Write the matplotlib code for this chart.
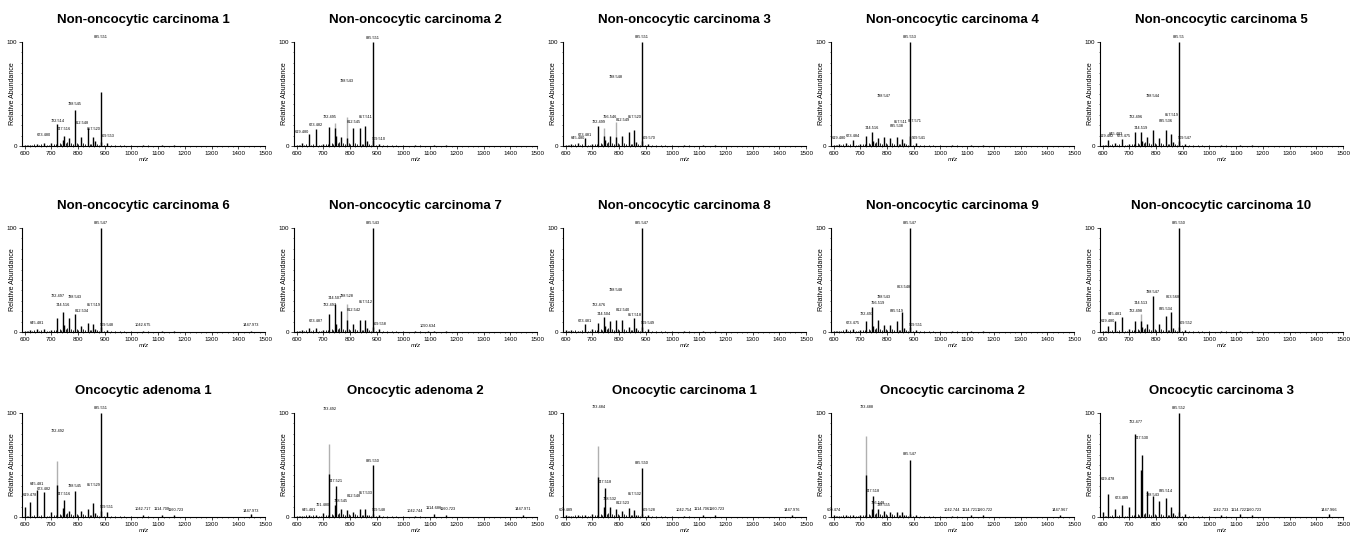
import matplotlib
matplotlib.use("Agg")
import matplotlib.pyplot as plt
from matplotlib.ticker import MultipleLocator

plt.rcParams['font.family'] = ['Liberation Sans', 'DejaVu Sans']

titles = [
    "Non-oncocytic carcinoma 1", "Non-oncocytic carcinoma 2", "Non-oncocytic carcinoma 3",
    "Non-oncocytic carcinoma 4", "Non-oncocytic carcinoma 5", "Non-oncocytic carcinoma 6",
    "Non-oncocytic carcinoma 7", "Non-oncocytic carcinoma 8", "Non-oncocytic carcinoma 9",
    "Non-oncocytic carcinoma 10", "Oncocytic adenoma 1", "Oncocytic adenoma 2",
    "Oncocytic carcinoma 1", "Oncocytic carcinoma 2", "Oncocytic carcinoma 3",
]

# main peaks, shared by all spectra
peak_mz = [600.5, 619.3, 645.5, 673.5, 699.5, 722.5, 744.5, 747.5, 766.5, 788.5, 812.5,
           835.5, 857.5, 863.6, 885.55, 887.6, 909.5, 1042.7, 1090.6, 1114.7, 1160.7, 1447.9]

# relative abundance of each main peak, one list per sample
noc1_int = [1, 1, 1.5, 3, 3, 21, 6, 10, 8, 35, 9, 17, 9, 5, 52, 4, 3, 0.5, 0, 0.5, 0.5, 0.3]
noc2_int = [1, 3, 12, 16, 2, 18, 17, 10, 9, 8, 17, 17, 19, 5, 100, 6, 2, 0.5, 0, 0.5, 0.5, 0.3]
noc3_int = [1, 2, 3, 8, 2, 19, 10, 6, 10, 9, 10, 13, 15, 4, 100, 5, 2, 0.5, 0, 0.5, 0.5, 0.3]
noc4_int = [1, 2, 3, 6, 2, 10, 13, 5, 8, 9, 8, 9, 7, 3, 100, 10, 3, 0.5, 0, 0.5, 0.5, 0.3]
noc5_int = [1, 6, 3, 7, 2, 13, 13, 5, 9, 15, 8, 15, 12, 4, 100, 5, 2, 0.5, 0, 0.5, 0.5, 0.3]
noc6_int = [1, 2, 3, 3, 2, 13, 19, 7, 13, 17, 6, 9, 8, 3, 100, 5, 2, 1, 0, 0.5, 0.5, 1]
noc7_int = [1, 2, 4, 4, 2, 17, 27, 8, 20, 12, 8, 12, 12, 4, 100, 5, 3, 0.5, 1, 0.5, 0.5, 0.3]
noc8_int = [2, 2, 1, 8, 3, 9, 14, 6, 11, 12, 12, 5, 13, 4, 100, 5, 3, 0.5, 0, 0.5, 0.5, 0.3]
noc9_int = [1, 1, 3, 3, 2, 11, 24, 6, 12, 7, 7, 11, 19, 4, 100, 5, 2, 0.5, 0, 0.5, 0.5, 0.3]
noc10_int = [1, 6, 11, 14, 3, 11, 11, 5, 8, 35, 8, 15, 19, 4, 100, 5, 2, 0.5, 0, 0.5, 0.5, 0.3]
oa1_int = [10, 14, 26, 24, 5, 31, 9, 16, 6, 25, 6, 8, 13, 4, 100, 6, 5, 2, 0, 2, 2, 3]
oa2_int = [1, 1, 2, 2, 4, 41, 12, 30, 8, 7, 5, 8, 8, 2, 50, 3, 2, 1, 0, 3, 2, 2]
oc1_int = [2, 1, 2, 2, 3, 38, 10, 28, 10, 8, 6, 9, 7, 2, 47, 3, 2, 1, 0, 2, 2, 2]
oc2_int = [2, 1, 2, 2, 2, 40, 8, 20, 8, 6, 5, 5, 5, 2, 55, 3, 2, 1, 0, 2, 2, 2]
oc3_int = [5, 22, 8, 12, 10, 80, 45, 60, 25, 20, 15, 18, 10, 4, 100, 5, 3, 2, 0, 3, 2, 3]

# second (grey) trace peaks drawn behind the black spectrum
noc2_grey = [(744.5, 22), (788.5, 28)]
noc3_grey = [(744.5, 17), (788.5, 23)]
noc7_grey = [(788.5, 27)]
noc10_grey = [(744.5, 17)]
oa1_grey = [(722.5, 54)]
oa2_grey = [(722.5, 70)]
oc1_grey = [(722.5, 68)]
oc2_grey = [(722.5, 78)]

# small background peaks, same for every sample
minor_mz = [607.5, 613.5, 627.5, 633.5, 655.5, 661.5, 683.5, 689.5, 709.5, 716.5, 731.5,
            736.5, 753.5, 759.5, 773.5, 779.5, 795.5, 801.5, 819.5, 826.5, 843.5, 849.5,
            871.5, 877.5, 895.5, 921.5, 937.5, 955.5, 971.5, 998.5, 1021.5, 1063.5, 1136.5,
            1187.5, 1212.5, 1259.5, 1301.5, 1338.5, 1372.5, 1404.5, 1431.5, 1475.5]
minor_int = [0.8, 1.2, 0.9, 1.5, 1.1, 2.0, 1.3, 0.9, 1.6, 2.4, 3.1, 2.2, 2.6, 3.4, 2.8, 2.1,
             3.0, 1.9, 2.5, 1.8, 2.2, 1.5, 1.7, 1.2, 1.4, 0.9, 0.7, 0.6, 0.5, 0.5, 0.4, 0.5,
             0.4, 0.4, 0.3, 0.4, 0.3, 0.3, 0.4, 0.3, 0.3, 0.3]

# peak annotations: (text, x position, height)
noc1_lab = [("673.480", 673.5, 9), ("722.514", 722.5, 22), ("747.516", 747.5, 14),
            ("788.545", 788.5, 38), ("812.548", 812.5, 20), ("857.520", 857.5, 14),
            ("885.551", 885.55, 103), ("909.553", 909.5, 8)]
noc2_lab = [("619.480", 619.3, 12), ("673.482", 673.5, 18), ("722.495", 722.5, 26),
            ("788.543", 788.5, 61), ("812.545", 812.5, 21), ("857.511", 857.5, 26),
            ("885.551", 885.55, 102), ("909.510", 909.5, 5)]
noc3_lab = [("645.480", 645.5, 6), ("673.481", 673.5, 9), ("722.499", 722.5, 21),
            ("766.546", 766.5, 26), ("812.549", 812.5, 23), ("788.548", 788.5, 64),
            ("857.520", 857.5, 26), ("885.551", 885.55, 103), ("909.570", 909.5, 6)]
noc4_lab = [("619.480", 619.3, 6), ("673.484", 673.5, 8), ("744.516", 744.5, 15),
            ("788.547", 788.5, 46), ("835.538", 835.5, 17), ("857.511", 852.0, 21),
            ("885.553", 885.55, 103), ("887.571", 905.0, 22), ("909.541", 918.0, 6)]
noc5_lab = [("619.482", 617.0, 8), ("645.483", 648.0, 10), ("673.475", 679.0, 8),
            ("722.496", 722.5, 26), ("744.519", 744.5, 15), ("788.544", 788.5, 46),
            ("835.536", 835.5, 22), ("857.519", 857.5, 28), ("885.55", 885.55, 103),
            ("909.547", 909.5, 6)]
noc6_lab = [("645.481", 645.5, 7), ("722.497", 722.5, 33), ("744.516", 744.5, 24),
            ("788.543", 788.5, 32), ("812.534", 812.5, 18), ("857.519", 857.5, 24),
            ("885.547", 885.55, 103), ("909.548", 909.5, 5), ("1042.675", 1042.7, 5),
            ("1447.973", 1447.9, 5)]
noc7_lab = [("673.487", 673.5, 9), ("722.497", 722.5, 24), ("744.507", 744.5, 31),
            ("788.528", 788.5, 33), ("812.542", 812.5, 19), ("857.512", 857.5, 27),
            ("885.543", 885.55, 103), ("909.558", 909.5, 6), ("1090.634", 1090.6, 4)]
noc8_lab = [("673.481", 673.5, 9), ("722.476", 722.5, 24), ("744.504", 744.5, 15),
            ("788.548", 788.5, 38), ("812.540", 812.5, 19), ("857.518", 857.5, 14),
            ("885.547", 885.55, 103), ("909.549", 909.5, 7)]
noc9_lab = [("673.475", 673.5, 7), ("722.497", 722.5, 15), ("766.519", 766.5, 26),
            ("788.543", 788.5, 32), ("835.519", 835.5, 18), ("863.548", 863.6, 41),
            ("885.547", 885.55, 103), ("909.551", 909.5, 5)]
noc10_lab = [("619.480", 619.3, 9), ("645.481", 645.5, 15), ("722.498", 722.5, 18),
             ("744.513", 744.5, 26), ("788.547", 788.5, 37), ("835.534", 835.5, 20),
             ("863.568", 863.6, 32), ("885.550", 885.55, 103), ("909.552", 909.5, 7)]
oa1_lab = [("619.478", 619.3, 19), ("645.481", 645.5, 30), ("673.482", 673.5, 25),
           ("722.492", 722.5, 81), ("747.516", 747.5, 20), ("788.545", 788.5, 28),
           ("857.529", 857.5, 29), ("885.551", 885.55, 103), ("909.551", 909.5, 8),
           ("1042.717", 1042.7, 6), ("1114.700", 1114.7, 6), ("1160.723", 1165.0, 5),
           ("1447.973", 1447.9, 4)]
oa2_lab = [("645.481", 645.5, 5), ("701.480", 699.5, 10), ("723.492", 722.5, 102),
           ("747.521", 747.5, 33), ("768.545", 766.5, 13), ("812.548", 812.5, 18),
           ("857.533", 857.5, 21), ("885.550", 885.55, 52), ("909.548", 909.5, 5),
           ("1042.744", 1042.7, 4), ("1114.686", 1114.7, 7), ("1160.723", 1165.0, 6),
           ("1447.971", 1447.9, 6)]
oc1_lab = [("600.489", 600.5, 5), ("723.484", 722.5, 104), ("747.518", 747.5, 32),
           ("768.532", 766.5, 15), ("812.523", 812.5, 12), ("857.532", 857.5, 20),
           ("885.550", 885.55, 50), ("909.528", 909.5, 5), ("1042.754", 1042.7, 5),
           ("1114.706", 1110.0, 6), ("1160.723", 1165.0, 6), ("1447.976", 1447.9, 5)]
oc2_lab = [("600.474", 600.5, 5), ("723.488", 722.5, 104), ("747.518", 747.5, 23),
           ("766.548", 766.5, 12), ("788.555", 788.5, 10), ("885.547", 885.55, 59),
           ("1042.744", 1042.7, 5), ("1114.721", 1110.0, 5), ("1160.722", 1165.0, 5),
           ("1447.967", 1447.9, 5)]
oc3_lab = [("619.478", 619.3, 35), ("673.489", 673.5, 16), ("722.477", 722.5, 89),
           ("747.530", 747.5, 74), ("788.543", 788.5, 19), ("835.514", 835.5, 23),
           ("885.552", 885.55, 103), ("1042.733", 1042.7, 5), ("1114.722", 1110.0, 5),
           ("1160.723", 1165.0, 5), ("1447.966", 1447.9, 5)]

spectra = [noc1_int, noc2_int, noc3_int, noc4_int, noc5_int, noc6_int, noc7_int, noc8_int,
           noc9_int, noc10_int, oa1_int, oa2_int, oc1_int, oc2_int, oc3_int]
greys = [[], noc2_grey, noc3_grey, [], [], [], noc7_grey, [], [], noc10_grey,
         oa1_grey, oa2_grey, oc1_grey, oc2_grey, []]
labels = [noc1_lab, noc2_lab, noc3_lab, noc4_lab, noc5_lab, noc6_lab, noc7_lab, noc8_lab,
          noc9_lab, noc10_lab, oa1_lab, oa2_lab, oc1_lab, oc2_lab, oc3_lab]

W, H = 1360, 536
fig = plt.figure(figsize=(W / 100, H / 100), dpi=100)

col_left = [22, 294, 563, 831, 1100]
row_top = [42, 228, 413]
ax_w, ax_h = 243, 104

for i in range(15):
    r, c = divmod(i, 5)
    ax = fig.add_axes([col_left[c] / W, 1 - (row_top[r] + ax_h) / H, ax_w / W, ax_h / H])

    ax.vlines(minor_mz, 0, minor_int, color='black', lw=0.6)
    if greys[i]:
        gx = [p[0] for p in greys[i]]
        gy = [p[1] for p in greys[i]]
        ax.vlines(gx, 0, gy, color='#b0b0b0', lw=1.0)
    ax.vlines(peak_mz, 0, spectra[i], color='black', lw=1.0)

    for txt, x, y in labels[i]:
        ax.text(x, y, txt, fontsize=2.8, ha='center', va='bottom')

    ax.set_xlim(590, 1500)
    ax.set_ylim(0, 100)
    ax.set_xticks(range(600, 1501, 100))
    ax.xaxis.set_minor_locator(MultipleLocator(20))
    ax.set_yticks([0, 100])
    ax.yaxis.set_minor_locator(MultipleLocator(10))
    ax.tick_params(which='major', labelsize=4.5, length=2, width=0.5, pad=1.5)
    ax.tick_params(which='minor', length=1, width=0.4)
    for s in ['top', 'right']:
        ax.spines[s].set_visible(False)
    for s in ['left', 'bottom']:
        ax.spines[s].set_linewidth(0.8)

    ax.set_xlabel("m/z", fontsize=4.5, style='italic', labelpad=1)
    ax.set_ylabel("Relative Abundance", fontsize=5)
    ax.yaxis.set_label_coords(-0.025, 0.5)
    ax.set_title(titles[i], fontsize=9.5, fontweight='bold', pad=14)

fig.savefig("out.png", dpi=100)
